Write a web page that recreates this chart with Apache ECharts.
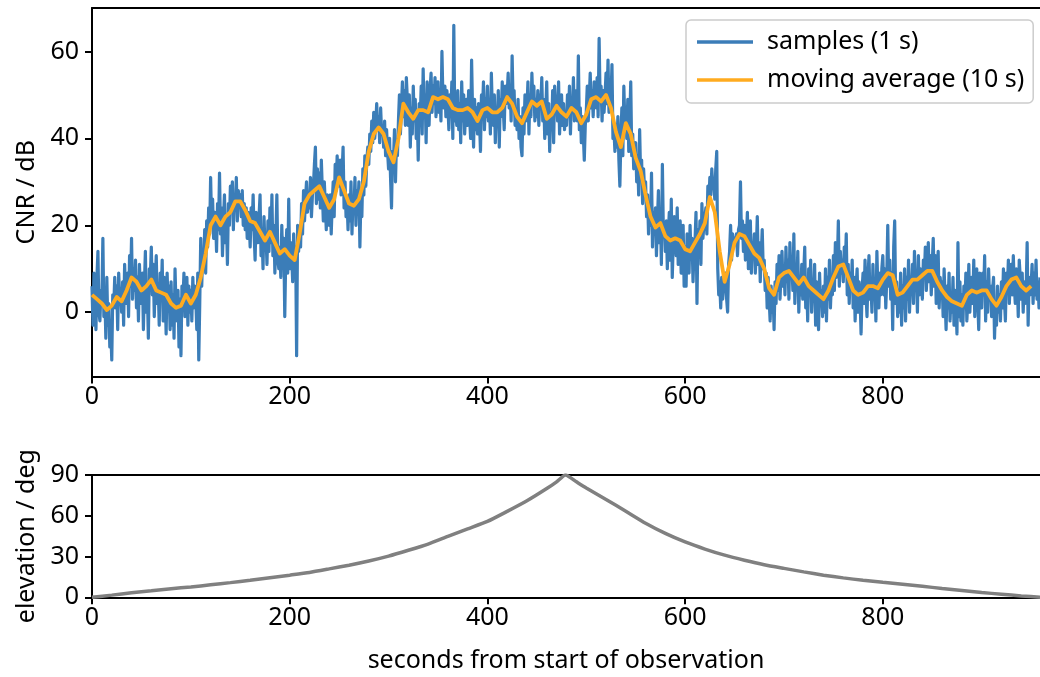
<!DOCTYPE html>
<html>
<head>
<meta charset="utf-8">
<script src="https://cdn.jsdelivr.net/npm/echarts@6/dist/echarts.min.js"></script>
<style>
  html, body { margin: 0; padding: 0; background: #fff; }
  #chart { width: 1040px; height: 677px; }
</style>
</head>
<body>
<div id="chart"></div>
<script>
// CNR samples, one per second from the start of the pass (dB)
const samples = [
  6, -3, 9, 2, -4, 8, 14, 0, -2, 5,
  3, 17, -1, 4, -6, 8, -3, 2, -8, -4,
  -11, 4, 1, 8, 1, 6, -4, 9, 3, 5,
  0, 7, -3, 11, 4, 2, 9, -1, 13, 6,
  17, 3, 10, 5, 12, 1, 8, -2, 11, 4,
  2, 9, -4, 6, 14, 0, 5, -6, 10, 8,
  15, 4, 11, -1, 7, 13, 2, 6, -3, 9,
  3, 12, -2, 8, 5, -5, 9, 1, 6, -4,
  7, -3, 4, -6, 10, 1, -2, 5, -8, 3,
  -10, 6, 2, 9, -1, 4, 8, -3, 6, 0,
  5, -2, 8, 1, 6, 3, -4, 9, -11, 2,
  17, 6, 14, 11, 19, 9, 21, 15, 24, 18,
  31, 20, 26, 17, 23, 22, 14, 25, 19, 32,
  18, 24, 13, 21, 27, 16, 22, 11, 25, 20,
  29, 23, 30, 19, 27, 24, 31, 21, 28, 25,
  27, 22, 28, 20, 25, 19, 24, 17, 23, 21,
  15, 24, 19, 27, 18, 12, 23, 20, 16, 22,
  27, 13, 19, 10, 22, 15, 18, 11, 21, 14,
  24, 16, 27, 13, 20, 9, 17, 27, 12, 10,
  15, 8, 20, 11, 17, -1, 13, 19, 9, 26,
  10, 16, 13, 7, 18, 11, 15, -10, 20, 14,
  19, 15, 25, 18, 28, 21, 26, 30, 23, 27,
  24, 31, 22, 27, 29, 34, 38, 25, 33, 26,
  32, 24, 35, 28, 21, 30, 25, 19, 27, 23,
  20, 27, 18, 25, 30, 22, 34, 28, 36, 31,
  29, 35, 27, 32, 38, 24, 30, 22, 26, 19,
  27, 21, 30, 18, 26, 23, 31, 20, 28, 24,
  30, 15, 26, 22, 33, 27, 36, 29, 35, 38,
  34, 41, 37, 44, 39, 46, 40, 43, 48, 42,
  45, 39, 47, 41, 43, 38, 44, 36, 42, 37,
  33, 40, 31, 24, 37, 35, 42, 30, 39, 36,
  44, 50, 41, 47, 53, 45, 51, 43, 54, 49,
  43, 50, 38, 47, 41, 52, 44, 49, 40, 46,
  35, 48, 44, 52, 41, 56, 45, 50, 39, 53,
  47, 43, 51, 55, 46, 52, 48, 54, 45, 50,
  53, 46, 50, 44, 60, 49, 47, 52, 45, 51,
  48, 42, 50, 45, 53, 40, 66, 44, 47, 43,
  51, 42, 48, 39, 53, 44, 50, 41, 47, 49,
  43, 51, 45, 40, 58, 46, 38, 49, 42, 47,
  41, 48, 44, 37, 50, 46, 53, 42, 49, 45,
  52, 44, 48, 41, 55, 46, 43, 50, 39, 47,
  44, 51, 38, 49, 45, 53, 47, 42, 52, 48,
  50, 55, 47, 52, 44, 59, 48, 51, 43, 46,
  42, 49, 40, 45, 38, 36, 47, 41, 50, 44,
  47, 53, 41, 50, 45, 55, 48, 52, 44, 49,
  45, 51, 43, 50, 47, 54, 44, 49, 40, 46,
  53, 41, 48, 37, 46, 42, 51, 39, 52, 47,
  49, 44, 53, 41, 47, 50, 43, 48, 42, 46,
  43, 50, 45, 52, 41, 49, 46, 54, 44, 48,
  51, 44, 59, 42, 47, 39, 45, 41, 35, 43,
  46, 52, 44, 49, 55, 47, 51, 45, 53, 50,
  47, 54, 45, 63, 49, 52, 44, 51, 46, 50,
  55, 48, 58, 46, 52, 49, 57, 40, 42, 37,
  43, 38, 45, 35, 29, 40, 47, 36, 52, 44,
  46, 40, 49, 37, 44, 53, 36, 41, 33, 38,
  39, 30, 36, 27, 42, 31, 35, 25, 33, 28,
  30, 22, 27, 18, 25, 20, 32, 15, 23, 19,
  24, 13, 21, 28, 16, 22, 11, 34, 18, 20,
  14, 21, 10, 18, 23, 12, 26, 8, 16, 22,
  19, 13, 24, 11, 17, 21, 9, 16, 20, 6,
  15, 6, 18, 12, 9, 20, 13, 17, 7, 14,
  16, 23, 2, 19, 14, 21, 11, 25, 17, 20,
  20, 24, 18, 29, 25, 31, 27, 33, 29, 30,
  26, 33, 37, 10, 4, 7, 1, 8, 3, 6,
  6, 9, 3, 0, 11, 14, 20, 12, 18, 15,
  17, 16, 18, 13, 19, 20, 30, 17, 21, 14,
  20, 12, 17, 23, 10, 15, 21, 9, 16, 13,
  18, 9, 14, 22, 11, 16, 7, 13, 19, 10,
  12, 5, 9, 1, 8, 3, -2, 6, 0, 4,
  -4, 7, 2, 11, 5, 13, 3, 9, 14, 6,
  10, 4, 15, 7, 12, 3, 16, 8, 11, 5,
  18, 2, 9, 6, 14, 0, 8, 4, 11, 3,
  9, 15, 1, 7, -2, 10, 4, 12, 0, 6,
  3, 11, -3, 7, 1, -4, 9, 2, 5, -1,
  6, 0, 10, -2, 8, 3, 12, 1, 7, 4,
  13, 5, 16, 8, 11, 21, 6, 14, 9, 12,
  7, 15, 10, 18, 4, 11, 2, 9, 5, 12,
  1, 8, -2, 6, 10, 0, 7, 3, -5, 5,
  9, 2, 12, 4, -1, 8, 13, 3, 6, 0,
  11, 3, 7, -2, 14, 5, 1, 9, 4, 10,
  13, 4, 10, 1, 8, 20, 6, 12, 3, 9,
  -4, 15, 21, 2, 7, -1, 5, 0, 9, -3,
  6, 1, 10, -2, 8, 3, 12, 0, 7, 5,
  11, 2, 14, 6, 9, 0, 13, 4, 10, 7,
  3, 12, 8, 15, 5, 10, 16, 7, 13, 4,
  11, 17, 6, 13, 2, 9, 14, 1, 8, 5,
  7, -1, 10, 3, -4, 6, 1, 9, -2, 4,
  0, 8, -3, 5, 2, -5, 16, -1, 7, -2,
  4, -3, 6, 1, 9, -2, 3, 11, 0, 5,
  8, 2, 12, -1, 6, 10, 3, -4, 9, 5,
  1, 9, 4, 13, -2, 7, 0, 10, 3, 6,
  -1, 5, 8, -6, 2, -3, 6, 0, 4, -2,
  7, 1, 10, 3, -2, 9, 5, 12, 2, 8,
  11, 4, 13, 6, 2, 10, 7, -1, 12, 8,
  3, 9, 0, 7, 2, 5, 16, -3, 8, 4,
  6, 11, 2, 9, 4, 12, 3, 7, 1, 8
];

// 10 s moving average of the CNR, one value every 5 s (dB)
const avgStep = 5;
const movingAvg = [
  4, 3, 2, 0.5, 1.5, 3.5, 2.5, 5, 8, 7,
  5, 6, 7.5, 5, 4.5, 4, 2, 1, 1.5, 4,
  2, 4, 8, 13.5, 20, 22, 20, 22, 23, 25.5,
  25.5, 23.5, 21, 20.5, 18.5, 16.5, 18.5, 16, 13.5, 14.5,
  13, 12, 18, 25, 27, 28, 29, 26.5, 24, 26,
  31, 28, 25, 24.5, 26, 30, 37, 41, 42.5, 41,
  37, 34.5, 40, 48, 46, 44.5, 46.5, 46.5, 46, 49.5,
  49, 49.5, 49, 47, 46.5, 46.5, 47, 46, 44, 46.5,
  47, 46, 46, 47, 49.5, 48, 45, 43.5, 46, 48.5,
  47.5, 48.5, 44.5, 45.5, 47.5, 46, 45, 47, 46, 43.5,
  45.5, 49, 49.5, 48.5, 50, 47, 41.5, 38, 43.5, 41,
  35.5, 32.5, 27, 22, 19.5, 20.5, 17.5, 16.5, 17, 16.5,
  14.5, 14, 16, 18, 20.5, 26.5, 23, 14, 7, 11,
  16, 18, 17.5, 15.5, 13.5, 12.5, 10, 5.5, 4, 8,
  9, 9.5, 8, 6.5, 8, 6, 5, 4, 3, 5,
  8, 10.5, 11, 8, 5, 4, 4.5, 6, 6, 5.5,
  7.5, 9, 8.5, 4, 4.5, 6, 7.5, 7.5, 8.5, 9.5,
  9.5, 7, 5, 3.5, 2.5, 2, 1.5, 4, 5, 4.5,
  5, 5, 3, 1.5, 3.5, 6, 7.5, 8, 6, 5,
  6
];

// Elevation of the satellite over the pass
const elevSeconds = [0, 20, 40, 60, 80, 100, 120, 140, 160, 180, 200, 220, 240, 260, 280, 300, 320, 340, 360, 380, 400, 420, 440, 460, 470, 479, 490, 500, 520, 540, 560, 580, 600, 620, 640, 660, 680, 700, 720, 740, 760, 780, 800, 820, 840, 860, 880, 900, 920, 940, 960];
const elevDeg = [0, 1.6, 3.3, 4.8, 6.3, 7.6, 9.2, 10.8, 12.5, 14.4, 16.3, 18.3, 20.9, 23.6, 26.7, 30.3, 34.6, 39.2, 44.8, 50.3, 55.8, 63.2, 71, 80, 85, 90, 85, 80.5, 72, 63.3, 54.5, 47, 40.7, 35.5, 31, 27.3, 24, 21.3, 18.7, 16.3, 14.3, 12.5, 11, 9.6, 8.1, 6.5, 5, 3.5, 2.3, 1, 0];

const xTicks = [0, 200, 400, 600, 800];
const cnrTicks = [0, 20, 40, 60];
const elevTicks = [0, 30, 60, 90];

const FONT = '"Noto Sans", "Open Sans", "DejaVu Sans", sans-serif';
const FS = 25;
const X_MAX = 959;

const samplePts = samples.map((v, i) => [i, v]);
const avgPts = movingAvg.map((v, i) => [i * avgStep, v]);
const elevPts = elevSeconds.map((t, i) => [t, elevDeg[i]]);

const axisLine = { show: true, onZero: false, lineStyle: { color: '#000', width: 2 } };
const tick = { show: true, inside: false, length: 7, lineStyle: { color: '#000', width: 2 } };
const label = { color: '#000', fontSize: FS, fontFamily: FONT };

function bottomX(grid, withName) {
  return {
    gridIndex: grid, type: 'value', position: 'bottom', min: 0, max: X_MAX,
    axisLine: axisLine,
    axisTick: Object.assign({}, tick, { customValues: xTicks }),
    axisLabel: Object.assign({}, label, { margin: 8, customValues: xTicks }),
    splitLine: { show: false },
    name: withName ? 'seconds from start of observation' : '',
    nameLocation: 'middle', nameGap: 51,
    nameTextStyle: { color: '#000', fontSize: FS, fontFamily: FONT }
  };
}
function topX(grid) {
  return {
    gridIndex: grid, type: 'value', position: 'top', min: 0, max: X_MAX,
    axisLine: axisLine, axisTick: { show: false }, axisLabel: { show: false },
    splitLine: { show: false }
  };
}

const chart = echarts.init(document.getElementById('chart'), null, { renderer: 'canvas' });
chart.setOption({
  animation: false,
  backgroundColor: '#fff',
  textStyle: { fontFamily: FONT },
  grid: [
    { left: 92, top: 8, width: 952, height: 368.5 },
    { left: 92, top: 475, width: 952, height: 122.3 }
  ],
  xAxis: [bottomX(0, false), topX(0), bottomX(1, true), topX(1)],
  yAxis: [
    {
      gridIndex: 0, type: 'value', min: -14.8, max: 70,
      axisLine: axisLine,
      axisTick: Object.assign({}, tick, { customValues: cnrTicks }),
      axisLabel: Object.assign({}, label, { margin: 13, customValues: cnrTicks }),
      splitLine: { show: false },
      name: 'CNR / dB', nameLocation: 'middle', nameGap: 52,
      nameTextStyle: { color: '#000', fontSize: FS, fontFamily: FONT }
    },
    {
      gridIndex: 1, type: 'value', min: 0, max: 90,
      axisLine: axisLine,
      axisTick: Object.assign({}, tick, { customValues: elevTicks }),
      axisLabel: Object.assign({}, label, { margin: 13, customValues: elevTicks }),
      splitLine: { show: false },
      name: 'elevation / deg', nameLocation: 'middle', nameGap: 52,
      nameTextStyle: { color: '#000', fontSize: FS, fontFamily: FONT }
    }
  ],
  legend: {
    data: ['samples (1 s)', 'moving average (10 s)'],
    orient: 'vertical', left: 686, top: 20,
    icon: 'rect', itemWidth: 56, itemHeight: 3.5, itemGap: 8,
    padding: [7, 9, 8, 11],
    backgroundColor: 'rgba(255,255,255,0.8)',
    borderColor: '#cccccc', borderWidth: 1.5, borderRadius: 5,
    textStyle: { color: '#000', fontSize: FS, fontFamily: FONT, lineHeight: 30, padding: [0, 0, 0, 9] }
  },
  series: [
    {
      name: 'samples (1 s)', type: 'line', xAxisIndex: 0, yAxisIndex: 0,
      data: samplePts, showSymbol: false, symbol: 'none',
      color: '#3b7db8',
      lineStyle: { color: '#3b7db8', width: 3.2, join: 'round' },
      z: 2
    },
    {
      name: 'moving average (10 s)', type: 'line', xAxisIndex: 0, yAxisIndex: 0,
      data: avgPts, showSymbol: false, symbol: 'none',
      color: '#ffab1f',
      lineStyle: { color: '#ffab1f', width: 3.8, join: 'round' },
      z: 3
    },
    {
      name: 'elevation', type: 'line', xAxisIndex: 2, yAxisIndex: 1,
      data: elevPts, showSymbol: false, symbol: 'none', smooth: 0.2,
      color: '#808080',
      lineStyle: { color: '#808080', width: 3.5 },
      z: 2
    }
  ]
});
</script>
</body>
</html>
